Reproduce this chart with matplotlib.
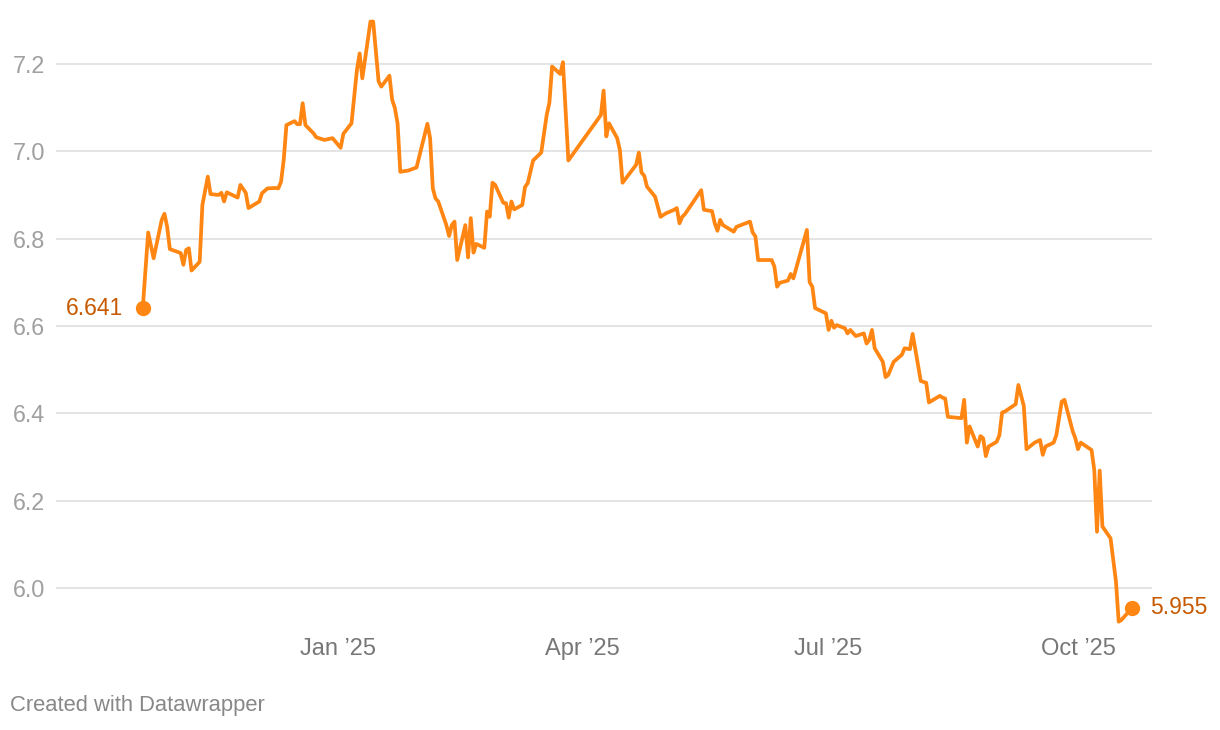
import pandas as pd
import matplotlib.pyplot as plt

# values
dates = [
    '2024-10-21', '2024-10-23', '2024-10-25', '2024-10-28', '2024-10-29', '2024-10-30', '2024-10-31',
    '2024-11-04', '2024-11-05', '2024-11-06', '2024-11-07', '2024-11-08', '2024-11-11', '2024-11-12',
    '2024-11-14', '2024-11-15', '2024-11-18', '2024-11-19', '2024-11-20', '2024-11-21', '2024-11-25',
    '2024-11-26', '2024-11-28', '2024-11-29', '2024-12-03', '2024-12-04', '2024-12-06', '2024-12-09',
    '2024-12-10', '2024-12-11', '2024-12-12', '2024-12-13', '2024-12-16', '2024-12-17', '2024-12-18',
    '2024-12-19', '2024-12-20', '2024-12-23', '2024-12-24', '2024-12-27', '2024-12-30', '2025-01-02',
    '2025-01-03', '2025-01-06', '2025-01-08', '2025-01-09', '2025-01-10', '2025-01-13', '2025-01-14',
    '2025-01-16', '2025-01-17', '2025-01-20', '2025-01-21', '2025-01-22', '2025-01-23', '2025-01-24',
    '2025-01-27', '2025-01-30', '2025-02-03', '2025-02-04', '2025-02-05', '2025-02-06', '2025-02-07',
    '2025-02-10', '2025-02-11', '2025-02-12', '2025-02-13', '2025-02-14', '2025-02-17', '2025-02-18',
    '2025-02-19', '2025-02-20', '2025-02-21', '2025-02-24', '2025-02-25', '2025-02-26', '2025-02-27',
    '2025-02-28', '2025-03-03', '2025-03-04', '2025-03-05', '2025-03-06', '2025-03-07', '2025-03-10',
    '2025-03-11', '2025-03-12', '2025-03-14', '2025-03-17', '2025-03-19', '2025-03-20', '2025-03-21',
    '2025-03-24', '2025-03-25', '2025-03-27', '2025-04-08', '2025-04-09', '2025-04-10', '2025-04-11',
    '2025-04-14', '2025-04-15', '2025-04-16', '2025-04-21', '2025-04-22', '2025-04-23', '2025-04-24',
    '2025-04-25', '2025-04-28', '2025-04-30', '2025-05-02', '2025-05-05', '2025-05-06', '2025-05-07',
    '2025-05-08', '2025-05-09', '2025-05-15', '2025-05-16', '2025-05-19', '2025-05-20', '2025-05-21',
    '2025-05-22', '2025-05-23', '2025-05-27', '2025-05-28', '2025-06-02', '2025-06-03', '2025-06-04',
    '2025-06-05', '2025-06-10', '2025-06-11', '2025-06-12', '2025-06-13', '2025-06-16', '2025-06-17',
    '2025-06-18', '2025-06-23', '2025-06-24', '2025-06-25', '2025-06-26', '2025-06-30', '2025-07-01',
    '2025-07-02', '2025-07-03', '2025-07-04', '2025-07-07', '2025-07-08', '2025-07-09', '2025-07-11',
    '2025-07-14', '2025-07-15', '2025-07-16', '2025-07-17', '2025-07-18', '2025-07-21', '2025-07-22',
    '2025-07-23', '2025-07-25', '2025-07-28', '2025-07-29', '2025-07-31', '2025-08-01', '2025-08-04',
    '2025-08-06', '2025-08-07', '2025-08-11', '2025-08-12', '2025-08-13', '2025-08-14', '2025-08-19',
    '2025-08-20', '2025-08-21', '2025-08-22', '2025-08-25', '2025-08-26', '2025-08-27', '2025-08-28',
    '2025-08-29', '2025-09-01', '2025-09-02', '2025-09-03', '2025-09-04', '2025-09-08', '2025-09-09',
    '2025-09-11', '2025-09-12', '2025-09-15', '2025-09-17', '2025-09-18', '2025-09-19', '2025-09-22',
    '2025-09-23', '2025-09-25', '2025-09-26', '2025-09-29', '2025-09-30', '2025-10-01', '2025-10-02',
    '2025-10-06', '2025-10-07', '2025-10-08', '2025-10-09', '2025-10-10', '2025-10-13', '2025-10-15',
    '2025-10-16', '2025-10-17', '2025-10-21',
]
values = [
    6.641, 6.814, 6.755, 6.843, 6.857, 6.827, 6.776,
    6.767, 6.740, 6.774, 6.778, 6.727, 6.747, 6.877,
    6.942, 6.902, 6.900, 6.905, 6.885, 6.906, 6.894,
    6.923, 6.905, 6.870, 6.885, 6.904, 6.915, 6.916,
    6.915, 6.930, 6.980, 7.060, 7.069, 7.062, 7.062,
    7.110, 7.060, 7.041, 7.032, 7.026, 7.030, 7.008,
    7.040, 7.064, 7.186, 7.224, 7.167, 7.297, 7.297,
    7.160, 7.148, 7.173, 7.118, 7.099, 7.064, 6.953,
    6.956, 6.963, 7.063, 7.030, 6.915, 6.892, 6.885,
    6.831, 6.806, 6.831, 6.839, 6.751, 6.831, 6.757,
    6.847, 6.768, 6.788, 6.779, 6.862, 6.850, 6.928,
    6.923, 6.882, 6.881, 6.848, 6.885, 6.867, 6.877,
    6.918, 6.927, 6.979, 6.997, 7.083, 7.111, 7.194,
    7.177, 7.204, 6.979, 7.083, 7.139, 7.034, 7.064,
    7.030, 7.003, 6.928, 6.969, 6.997, 6.951, 6.944,
    6.919, 6.896, 6.850, 6.858, 6.866, 6.870, 6.835,
    6.850, 6.856, 6.911, 6.866, 6.863, 6.835, 6.818,
    6.843, 6.831, 6.816, 6.827, 6.839, 6.814, 6.805,
    6.751, 6.751, 6.736, 6.690, 6.699, 6.704, 6.719,
    6.709, 6.820, 6.700, 6.690, 6.641, 6.629, 6.591,
    6.612, 6.596, 6.602, 6.595, 6.583, 6.591, 6.577,
    6.583, 6.560, 6.568, 6.591, 6.549, 6.518, 6.483,
    6.488, 6.518, 6.534, 6.549, 6.547, 6.582, 6.474,
    6.470, 6.425, 6.440, 6.436, 6.434, 6.392, 6.389,
    6.431, 6.333, 6.370, 6.324, 6.348, 6.343, 6.302,
    6.324, 6.335, 6.350, 6.402, 6.404, 6.421, 6.465,
    6.417, 6.318, 6.333, 6.339, 6.305, 6.324, 6.333,
    6.350, 6.427, 6.431, 6.360, 6.343, 6.318, 6.333,
    6.316, 6.270, 6.129, 6.269, 6.141, 6.114, 6.015,
    5.923, 5.927, 5.955,
]

tick_dates = ['2025-01-01', '2025-04-01', '2025-07-01', '2025-10-01']
tick_labels = ['Jan ’25', 'Apr ’25', 'Jul ’25', 'Oct ’25']
y_ticks = [6.0, 6.2, 6.4, 6.6, 6.8, 7.0, 7.2]

line_color = '#ff8612'
label_color = '#c75a00'

plt.rcParams['font.family'] = ['Liberation Sans', 'DejaVu Sans']

x = pd.to_datetime(dates)

fig = plt.figure(figsize=(12.2, 7.3), dpi=100)
ax = fig.add_axes([56 / 1220, 100 / 730, 1096 / 1220, 615 / 730])

ax.plot(x, values, color=line_color, lw=2.7, solid_joinstyle='round', clip_on=False, zorder=3)
ax.plot([x[0], x[-1]], [values[0], values[-1]], 'o', ms=10, color=line_color, clip_on=False, zorder=4)

ax.annotate(f'{values[0]:.3f}', (x[0], values[0]), xytext=(-14, 0), textcoords='offset points',
            ha='right', va='center', fontsize=16.5, color=label_color)
ax.annotate(f'{values[-1]:.3f}', (x[-1], values[-1]), xytext=(13, 0), textcoords='offset points',
            ha='left', va='center', fontsize=16.5, color=label_color)

ax.set_xlim(pd.Timestamp('2024-09-19'), pd.Timestamp('2025-10-28 07:00'))
ax.set_ylim(5.904, 7.312)

ax.set_yticks(y_ticks)
ax.set_yticklabels([f'{v:.1f}' for v in y_ticks])
ax.set_xticks(pd.to_datetime(tick_dates))
ax.set_xticklabels(tick_labels)

ax.grid(axis='y', color='#e2e2e2', lw=1.3)
ax.set_axisbelow(True)
for s in ax.spines.values():
    s.set_visible(False)
ax.tick_params(axis='y', length=0, pad=8, labelsize=16.8, labelcolor='#a0a0a0')
ax.tick_params(axis='x', length=0, pad=6, labelsize=17, labelcolor='#777777')

fig.text(10 / 1220, 1 - 706 / 730, 'Created with Datawrapper', ha='left', va='center',
         fontsize=15.8, color='#888888')

fig.savefig('out.png', dpi=100)
